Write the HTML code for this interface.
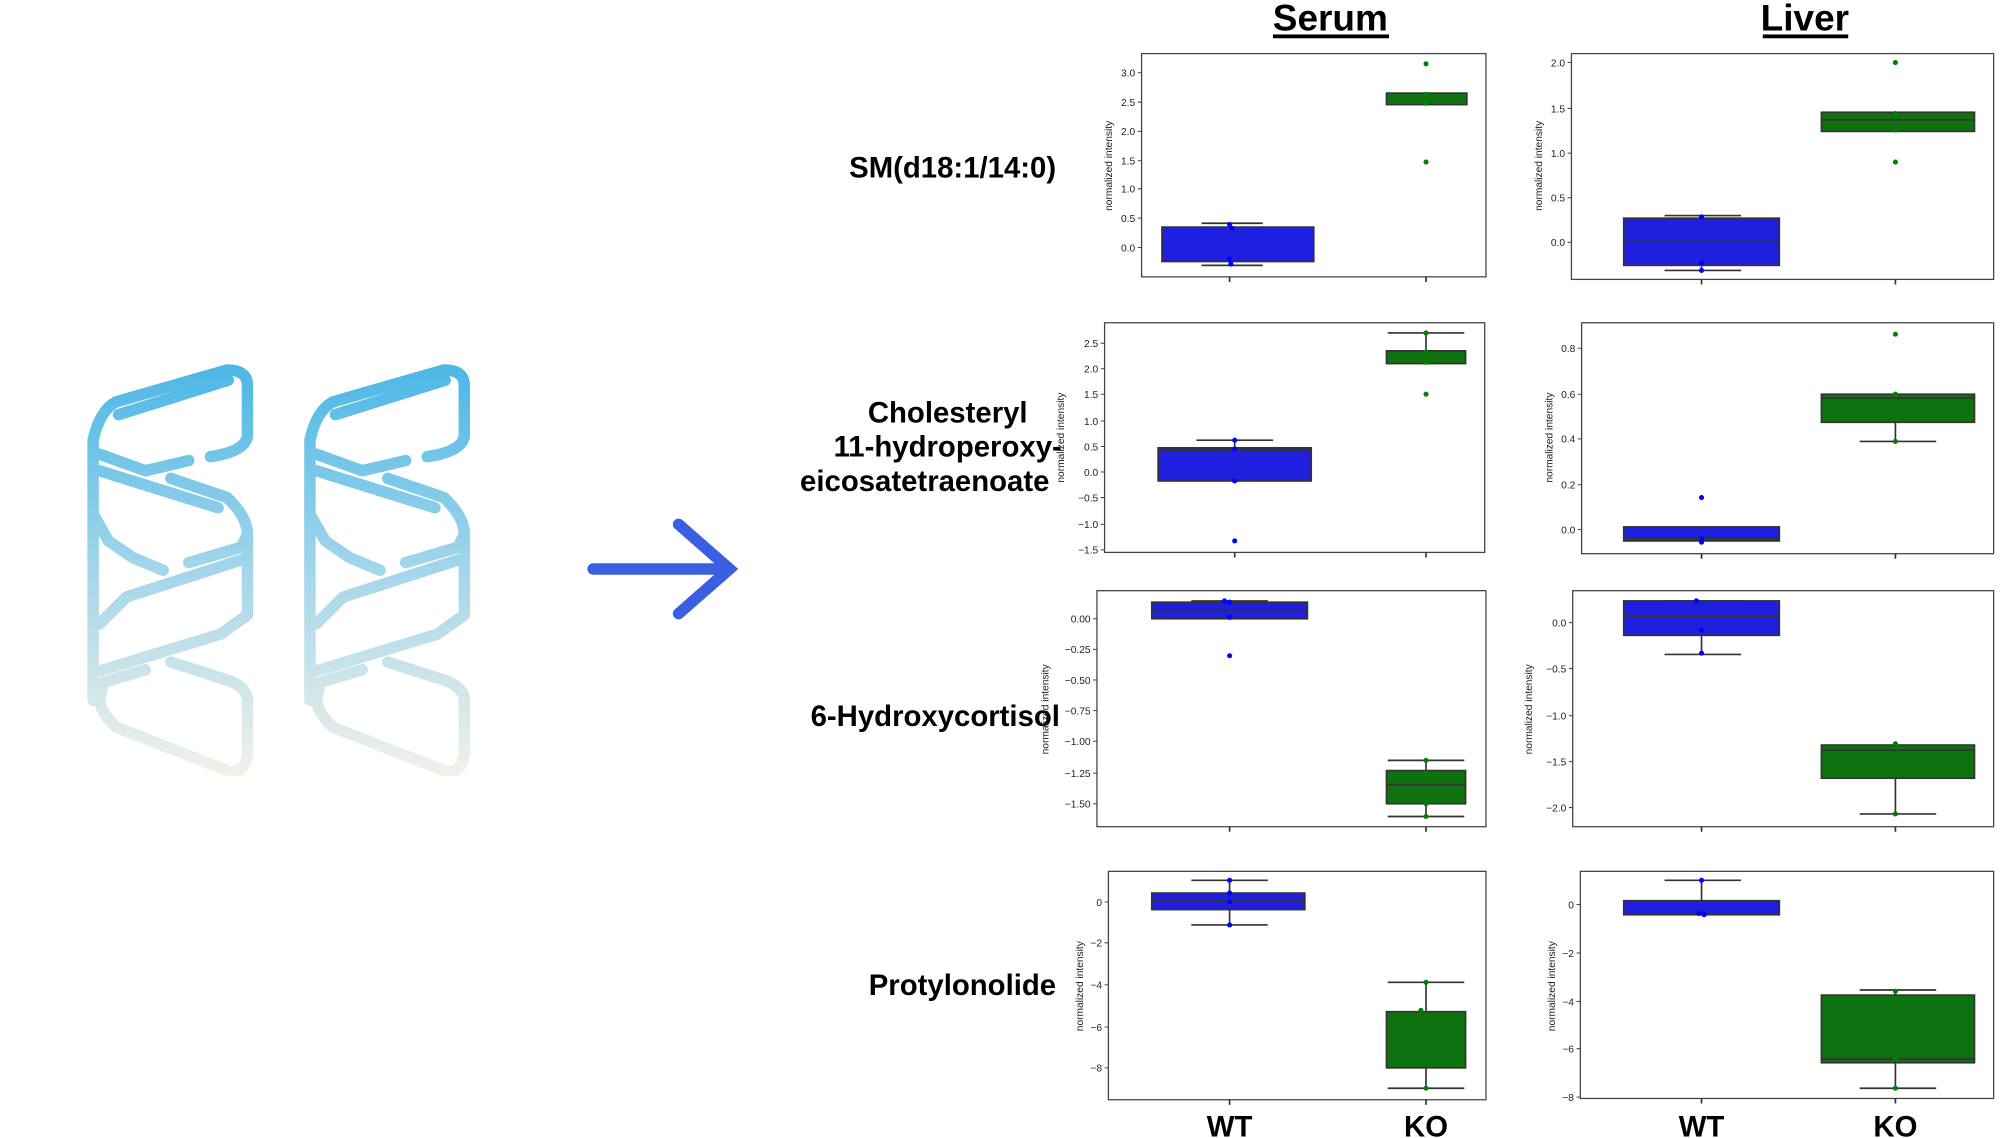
<!DOCTYPE html>
<html><head><meta charset="utf-8"><style>
html,body{margin:0;padding:0;background:#fff;}
svg{display:block;font-family:"Liberation Sans",sans-serif;}
.t{font-size:8px;fill:#222;text-anchor:end;}
.yl{font-size:8px;fill:#222;text-anchor:middle;}
.lab{font-size:23px;font-weight:bold;fill:#000;}
.fr{fill:none;stroke:#444;stroke-width:1;}
.bb{fill:#1f1fe0;stroke:#333;stroke-width:1.3;}
.gb{fill:#0e720e;stroke:#333;stroke-width:1.3;}
.w{stroke:#333;stroke-width:1.3;fill:none;}
.tk{stroke:#444;stroke-width:0.8;fill:none;}
.bp{fill:#0000ff;}
.gp{fill:#008000;}
</style></head><body>
<svg width="2000" height="1138" viewBox="0 0 1568 892" preserveAspectRatio="none">
<defs>
<linearGradient id="hg" gradientUnits="userSpaceOnUse" x1="0" y1="288" x2="0" y2="606">
<stop offset="0" stop-color="#4db7e6"/><stop offset="0.5" stop-color="#a3d6ea"/><stop offset="1" stop-color="#f1f1e9"/>
</linearGradient>
<g id="helix" fill="none" stroke="url(#hg)" stroke-width="9" stroke-linecap="round" stroke-linejoin="round">
<path d="M73,549 L73,345 Q78,322 91,315 L178,290 Q194,290 194,302 L194,342 Q192,354 165,358"/>
<path d="M179,298 L93,325"/>
<path d="M78,356 L114,369 L148,361"/>
<path d="M78,369 L171,398"/>
<path d="M134,375 L178,390 Q194,405 194,419 L189,429 L148,441"/>
<path d="M73,403 L85,424 L104,437 L128,447"/>
<path d="M189,439 L99,468 L78,489"/>
<path d="M194,419 L194,482 L173,497"/>
<path d="M173,497 L78,526"/>
<path d="M134,519 L181,534 Q194,540 194,549 L194,591 Q192,604 185,604"/>
<path d="M114,525 L81,535 L78,549 Q80,560 91,570 L178,604"/>
</g>
</defs>
<use href="#helix"/>
<use href="#helix" transform="translate(170,0)"/>
<!-- arrow -->
<g stroke="#3a5fe0" stroke-width="9" stroke-linecap="round" fill="none" stroke-linejoin="miter">
<line x1="465" y1="446" x2="570" y2="446"/>
<polyline points="532,411 572,446 532,481"/>
</g>

<!-- headings -->
<text x="1043" y="24" class="lab" style="font-size:29px" text-anchor="middle">Serum</text>
<rect x="998" y="27" width="91" height="3" fill="#000"/>
<text x="1415" y="24" class="lab" style="font-size:29px" text-anchor="middle">Liver</text>
<rect x="1382" y="27" width="67" height="3" fill="#000"/>

<!-- row labels -->
<text x="828" y="139" class="lab" text-anchor="end">SM(d18:1/14:0)</text>
<text x="743" y="331" class="lab" text-anchor="middle">Cholesteryl</text>
<text x="743" y="358" class="lab" text-anchor="middle">11-hydroperoxy-</text>
<text x="725" y="385" class="lab" text-anchor="middle">eicosatetraenoate</text>
<text x="831" y="569" class="lab" text-anchor="end">6-Hydroxycortisol</text>
<text x="828" y="780" class="lab" text-anchor="end">Protylonolide</text>

<text x="964" y="891" class="lab" text-anchor="middle">WT</text>
<text x="1118" y="891" class="lab" text-anchor="middle">KO</text>
<text x="1334" y="891" class="lab" text-anchor="middle">WT</text>
<text x="1486" y="891" class="lab" text-anchor="middle">KO</text>

<!-- Row1 Serum -->
<rect class="fr" x="895" y="42" width="270" height="175"/>
<text class="yl" transform="translate(872,130) rotate(-90)">normalized intensity</text>
<path class="tk" d="M892,57h3M892,80h3M892,103h3M892,126h3M892,148h3M892,171h3M892,194h3"/>
<g class="t"><text x="890" y="60">3.0</text><text x="890" y="83">2.5</text><text x="890" y="106">2.0</text><text x="890" y="129">1.5</text><text x="890" y="151">1.0</text><text x="890" y="174">0.5</text><text x="890" y="197">0.0</text></g>
<path class="w" d="M942,175H990M942,208H990M964,175V178M964,205V208"/>
<rect class="bb" x="911" y="178" width="119" height="27"/>
<circle class="bp" cx="964" cy="176" r="2"/><circle class="bp" cx="966" cy="179" r="2"/><circle class="bp" cx="964" cy="203" r="2"/><circle class="bp" cx="965" cy="207" r="2"/>
<rect class="gb" x="1087" y="73" width="63" height="9"/>
<circle class="gp" cx="1118" cy="50" r="2"/><circle class="gp" cx="1118" cy="74" r="2"/><circle class="gp" cx="1118" cy="81" r="2"/><circle class="gp" cx="1118" cy="127" r="2"/>
<path class="w" d="M964,217v4M1118,217v4"/>

<!-- Row1 Liver -->
<rect class="fr" x="1232" y="42" width="331" height="177"/>
<text class="yl" transform="translate(1209,130) rotate(-90)">normalized intensity</text>
<path class="tk" d="M1229,49h3M1229,85h3M1229,120h3M1229,155h3M1229,190h3"/>
<g class="t"><text x="1227" y="52">2.0</text><text x="1227" y="88">1.5</text><text x="1227" y="123">1.0</text><text x="1227" y="158">0.5</text><text x="1227" y="193">0.0</text></g>
<path class="w" d="M1305,169H1365M1305,212H1365M1334,169V171M1334,208V212"/>
<rect class="bb" x="1273" y="171" width="122" height="37"/>
<path class="w" d="M1273,188H1395"/>
<circle class="bp" cx="1334" cy="170" r="2"/><circle class="bp" cx="1334" cy="206" r="2"/><circle class="bp" cx="1334" cy="212" r="2"/>
<rect class="gb" x="1428" y="88" width="120" height="15"/>
<path class="w" d="M1428,94H1548"/>
<circle class="gp" cx="1486" cy="49" r="2"/><circle class="gp" cx="1486" cy="89" r="2"/><circle class="gp" cx="1486" cy="102" r="2"/><circle class="gp" cx="1486" cy="127" r="2"/>
<path class="w" d="M1334,219v4M1486,219v4"/>

<!-- Row2 Serum -->
<rect class="fr" x="866" y="253" width="298" height="180"/>
<text class="yl" transform="translate(834,343) rotate(-90)">normalized intensity</text>
<path class="tk" d="M863,269h3M863,289h3M863,309h3M863,330h3M863,350h3M863,370h3M863,390h3M863,411h3M863,431h3"/>
<g class="t"><text x="861" y="272">2.5</text><text x="861" y="292">2.0</text><text x="861" y="312">1.5</text><text x="861" y="333">1.0</text><text x="861" y="353">0.5</text><text x="861" y="373">0.0</text><text x="861" y="393">−0.5</text><text x="861" y="414">−1.0</text><text x="861" y="434">−1.5</text></g>
<path class="w" d="M938,345H998M968,345V351"/>
<rect class="bb" x="908" y="351" width="120" height="26"/>
<path class="w" d="M908,353H1028"/>
<circle class="bp" cx="968" cy="345" r="2"/><circle class="bp" cx="968" cy="352" r="2"/><circle class="bp" cx="968" cy="377" r="2"/><circle class="bp" cx="968" cy="424" r="2"/>
<path class="w" d="M1088,261H1148M1118,261V275"/>
<rect class="gb" x="1087" y="275" width="62" height="10"/>
<circle class="gp" cx="1118" cy="261" r="2"/><circle class="gp" cx="1118" cy="276" r="2"/><circle class="gp" cx="1118" cy="284" r="2"/><circle class="gp" cx="1118" cy="309" r="2"/>
<path class="w" d="M968,433v4M1118,433v4"/>

<!-- Row2 Liver -->
<rect class="fr" x="1240" y="253" width="323" height="181"/>
<text class="yl" transform="translate(1217,343) rotate(-90)">normalized intensity</text>
<path class="tk" d="M1237,273h3M1237,309h3M1237,344h3M1237,380h3M1237,415h3"/>
<g class="t"><text x="1235" y="276">0.8</text><text x="1235" y="312">0.6</text><text x="1235" y="347">0.4</text><text x="1235" y="383">0.2</text><text x="1235" y="418">0.0</text></g>
<rect class="bb" x="1273" y="413" width="122" height="11"/>
<path class="w" d="M1273,422H1395"/>
<circle class="bp" cx="1334" cy="390" r="2"/><circle class="bp" cx="1334" cy="422" r="2"/><circle class="bp" cx="1334" cy="425" r="2"/>
<path class="w" d="M1458,346H1518M1486,331V346"/>
<rect class="gb" x="1428" y="309" width="120" height="22"/>
<path class="w" d="M1428,312H1548"/>
<circle class="gp" cx="1486" cy="262" r="2"/><circle class="gp" cx="1486" cy="309" r="2"/><circle class="gp" cx="1486" cy="346" r="2"/>
<path class="w" d="M1334,434v4M1486,434v4"/>

<!-- Row3 Serum -->
<rect class="fr" x="860" y="463" width="305" height="185"/>
<text class="yl" transform="translate(822,556) rotate(-90)">normalized intensity</text>
<path class="tk" d="M857,485h3M857,509h3M857,533h3M857,557h3M857,581h3M857,606h3M857,630h3"/>
<g class="t"><text x="855" y="488">0.00</text><text x="855" y="512">−0.25</text><text x="855" y="536">−0.50</text><text x="855" y="560">−0.75</text><text x="855" y="584">−1.00</text><text x="855" y="609">−1.25</text><text x="855" y="633">−1.50</text></g>
<path class="w" d="M934,471H994"/>
<rect class="bb" x="903" y="472" width="122" height="13"/>
<path class="w" d="M903,478H1025"/>
<circle class="bp" cx="960" cy="471" r="2"/><circle class="bp" cx="964" cy="472" r="2"/><circle class="bp" cx="964" cy="484" r="2"/><circle class="bp" cx="964" cy="514" r="2"/>
<path class="w" d="M1088,596H1148M1088,640H1148M1118,596V604M1118,630V640"/>
<rect class="gb" x="1087" y="604" width="62" height="26"/>
<path class="w" d="M1087,615H1149"/>
<circle class="gp" cx="1118" cy="596" r="2"/><circle class="gp" cx="1118" cy="606" r="2"/><circle class="gp" cx="1118" cy="630" r="2"/><circle class="gp" cx="1118" cy="640" r="2"/>
<path class="w" d="M964,648v4M1118,648v4"/>

<!-- Row3 Liver -->
<rect class="fr" x="1233" y="463" width="330" height="185"/>
<text class="yl" transform="translate(1201,556) rotate(-90)">normalized intensity</text>
<path class="tk" d="M1230,488h3M1230,524h3M1230,561h3M1230,597h3M1230,633h3"/>
<g class="t"><text x="1228" y="491">0.0</text><text x="1228" y="527">−0.5</text><text x="1228" y="564">−1.0</text><text x="1228" y="600">−1.5</text><text x="1228" y="636">−2.0</text></g>
<path class="w" d="M1305,471H1365M1305,513H1365M1334,498V513"/>
<rect class="bb" x="1273" y="471" width="122" height="27"/>
<path class="w" d="M1273,483H1395"/>
<circle class="bp" cx="1330" cy="471" r="2"/><circle class="bp" cx="1334" cy="494" r="2"/><circle class="bp" cx="1334" cy="512" r="2"/>
<path class="w" d="M1458,638H1518M1486,610V638"/>
<rect class="gb" x="1428" y="584" width="120" height="26"/>
<path class="w" d="M1428,588H1548"/>
<circle class="gp" cx="1486" cy="583" r="2"/><circle class="gp" cx="1488" cy="586" r="2"/><circle class="gp" cx="1486" cy="638" r="2"/>
<path class="w" d="M1334,648v4M1486,648v4"/>

<!-- Row4 Serum -->
<rect class="fr" x="869" y="683" width="296" height="179"/>
<text class="yl" transform="translate(849,773) rotate(-90)">normalized intensity</text>
<path class="tk" d="M866,707h3M866,739h3M866,772h3M866,805h3M866,837h3"/>
<g class="t"><text x="864" y="710">0</text><text x="864" y="742">−2</text><text x="864" y="775">−4</text><text x="864" y="808">−6</text><text x="864" y="840">−8</text></g>
<path class="w" d="M934,690H994M934,725H994M964,690V700M964,713V725"/>
<rect class="bb" x="903" y="700" width="120" height="13"/>
<path class="w" d="M903,706H1023"/>
<circle class="bp" cx="964" cy="690" r="2"/><circle class="bp" cx="964" cy="700" r="2"/><circle class="bp" cx="964" cy="707" r="2"/><circle class="bp" cx="964" cy="725" r="2"/>
<path class="w" d="M1088,770H1148M1088,853H1148M1118,770V793M1118,837V853"/>
<rect class="gb" x="1087" y="793" width="62" height="44"/>
<circle class="gp" cx="1118" cy="770" r="2"/><circle class="gp" cx="1114" cy="792" r="2"/><circle class="gp" cx="1118" cy="853" r="2"/>
<path class="w" d="M964,862v4M1118,862v4"/>

<!-- Row4 Liver -->
<rect class="fr" x="1239" y="683" width="324" height="178"/>
<text class="yl" transform="translate(1219,773) rotate(-90)">normalized intensity</text>
<path class="tk" d="M1236,709h3M1236,747h3M1236,785h3M1236,822h3M1236,860h3"/>
<g class="t"><text x="1234" y="712">0</text><text x="1234" y="750">−2</text><text x="1234" y="788">−4</text><text x="1234" y="825">−6</text><text x="1234" y="863">−8</text></g>
<path class="w" d="M1305,690H1365M1334,690V706"/>
<rect class="bb" x="1273" y="706" width="122" height="11"/>
<circle class="bp" cx="1334" cy="690" r="2"/><circle class="bp" cx="1332" cy="716" r="2"/><circle class="bp" cx="1336" cy="717" r="2"/>
<path class="w" d="M1458,776H1518M1458,853H1518M1486,776V780M1486,833V853"/>
<rect class="gb" x="1428" y="780" width="120" height="53"/>
<path class="w" d="M1428,830H1548"/>
<circle class="gp" cx="1486" cy="777" r="2"/><circle class="gp" cx="1486" cy="830" r="2"/><circle class="gp" cx="1486" cy="853" r="2"/>
<path class="w" d="M1334,861v4M1486,861v4"/>
</svg>
</body></html>
